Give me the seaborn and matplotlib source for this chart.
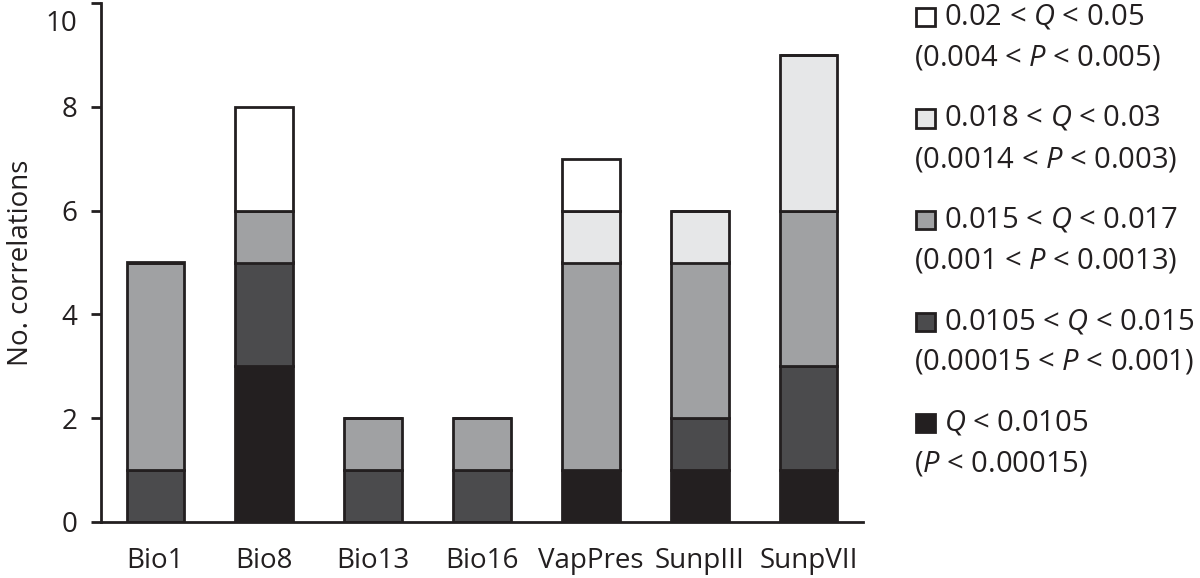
import numpy as np
import matplotlib
matplotlib.use("Agg")
import matplotlib.pyplot as plt
import matplotlib.transforms as mtransforms
import seaborn as sns
from matplotlib.patches import Rectangle

categories = ["Bio1", "Bio8", "Bio13", "Bio16", "VapPres", "SunpIII", "SunpVII"]

# counts per significance class, bottom to top
q_lt_00105 = [0, 3, 0, 0, 1, 1, 1]
q_00105_0015 = [1, 2, 1, 1, 0, 1, 2]
q_0015_0017 = [4, 1, 1, 1, 4, 3, 3]
q_0018_003 = [0, 0, 0, 0, 1, 1, 3]
q_002_005 = [0, 2, 0, 0, 1, 0, 0]

series = [q_lt_00105, q_00105_0015, q_0015_0017, q_0018_003, q_002_005]
q_labels = ["$Q$ < 0.0105", "0.0105 < $Q$ < 0.015", "0.015 < $Q$ < 0.017",
            "0.018 < $Q$ < 0.03", "0.02 < $Q$ < 0.05"]
p_labels = ["($P$ < 0.00015)", "(0.00015 < $P$ < 0.001)", "(0.001 < $P$ < 0.0013)",
            "(0.0014 < $P$ < 0.003)", "(0.004 < $P$ < 0.005)"]
colors = ["#231f20", "#4b4b4d", "#a0a1a3", "#e6e7e8", "#ffffff"]
edge = "#231f20"

sns.set_style("white")
plt.rcParams["font.family"] = ["Open Sans", "DejaVu Sans"]
plt.rcParams["mathtext.fontset"] = "custom"
plt.rcParams["mathtext.rm"] = "Open Sans"
plt.rcParams["mathtext.it"] = "Open Sans:italic"
plt.rcParams["text.color"] = edge

W, H = 1200, 578
fig = plt.figure(figsize=(12, 5.78), dpi=100)
ax = fig.add_axes([101 / W, 1 - 522 / H, 762 / W, 519 / H])

bottom = np.zeros(len(categories))
for vals, col in zip(series, colors):
    sns.barplot(x=categories, y=vals, bottom=bottom, color=col, width=0.53,
                edgecolor=edge, linewidth=2, saturation=1, ax=ax)
    bottom = bottom + np.array(vals)

ax.set_xlim(-0.5, 6.5)
ax.set_ylim(0, 10)
ax.set_yticks([0, 2, 4, 6, 8, 10])
ax.set_xticks(np.arange(-0.5, 7, 1), minor=True)
ax.tick_params(axis="x", which="major", length=0, pad=18, labelsize=20, colors=edge)
ax.tick_params(axis="x", which="minor", length=7, width=2, color=edge, direction="out")
ax.tick_params(axis="y", length=7, width=2, color=edge, labelsize=20, colors=edge,
               left=True, pad=10)
for s in ["top", "right"]:
    ax.spines[s].set_visible(False)
for s in ["left", "bottom"]:
    ax.spines[s].set_linewidth(2)
    ax.spines[s].set_color(edge)
ax.set_ylabel("No. correlations", fontsize=20, color=edge, labelpad=8)

# keep the top tick label inside the figure
top_lab = ax.get_yticklabels()[-1]
top_lab.set_verticalalignment("top")
top_lab.set_transform(top_lab.get_transform() +
                      mtransforms.ScaledTranslation(0, -5 / 72, fig.dpi_scale_trans))

# legend: square beside first line, second line starts under the square
for i in range(5):
    k = 4 - i
    y1 = 17 + 101.5 * i
    fig.add_artist(Rectangle((916 / W, 1 - (y1 + 9) / H), 19 / W, 18 / H,
                             facecolor=colors[k], edgecolor=edge, linewidth=2,
                             transform=fig.transFigure))
    fig.text(944 / W, 1 - y1 / H, q_labels[k], fontsize=21, va="center", ha="left")
    fig.text(914 / W, 1 - (y1 + 41) / H, p_labels[k], fontsize=21, va="center", ha="left")

fig.savefig("out.png", dpi=100)
